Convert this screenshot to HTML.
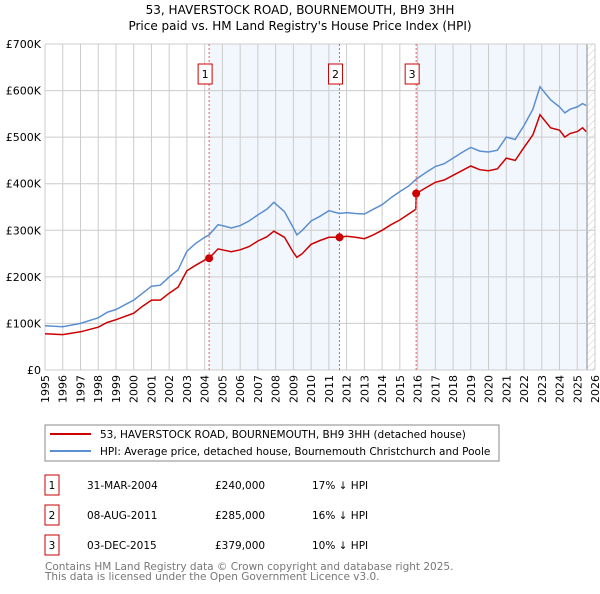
<!DOCTYPE html>
<html><head><meta charset="utf-8"><style>
body{margin:0;width:600px;height:590px;background:#fff;font-family:"DejaVu Sans","Liberation Sans",sans-serif;overflow:hidden}
svg text{font-family:"DejaVu Sans","Liberation Sans",sans-serif}
</style></head><body>
<svg id="chart" width="600" height="590">
<defs><pattern id="hatch" width="5" height="5" patternUnits="userSpaceOnUse" patternTransform="rotate(45)"><line x1="0" y1="0" x2="0" y2="5" stroke="#ccc" stroke-width="1"/></pattern></defs>
<text x="300" y="14" text-anchor="middle" font-size="12">53, HAVERSTOCK ROAD, BOURNEMOUTH, BH9 3HH</text>
<text x="300" y="30" text-anchor="middle" font-size="12">Price paid vs. HM Land Registry's House Price Index (HPI)</text>
<g id="bg"></g><g id="grid"></g><g id="lines"></g><g id="marks"></g><g id="axes"></g>
<rect x="45" y="425" width="454" height="36" fill="#fff" stroke="#888"/>
<line x1="50" y1="434" x2="91" y2="434" stroke="#cc0000" stroke-width="2"/>
<text x="100" y="438" font-size="10.5">53, HAVERSTOCK ROAD, BOURNEMOUTH, BH9 3HH (detached house)</text>
<line x1="50" y1="451" x2="91" y2="451" stroke="#5b8fd0" stroke-width="2"/>
<text x="100" y="455" font-size="10.5">HPI: Average price, detached house, Bournemouth Christchurch and Poole</text>
<g id="table" font-size="10.5"></g>
<text x="45" y="570" font-size="10.5" fill="#777">Contains HM Land Registry data © Crown copyright and database right 2025.</text>
<text x="45" y="580" font-size="10.5" fill="#777">This data is licensed under the Open Government Licence v3.0.</text>
</svg>
<script>
const hpiYears=[1995,1996,1997,1998,1998.5,1999,2000,2000.5,2001,2001.5,2002,2002.5,2003,2003.5,2004,2004.25,2004.75,2005,2005.5,2006,2006.5,2007,2007.5,2007.9,2008.5,2009,2009.2,2009.5,2010,2010.5,2011,2011.6,2012,2012.5,2013,2013.5,2014,2014.5,2015,2015.5,2015.92,2016.5,2017,2017.5,2018,2018.5,2019,2019.5,2020,2020.5,2021,2021.5,2022,2022.5,2022.9,2023.5,2024,2024.3,2024.6,2025,2025.3,2025.5];
const hpiValues=[95,93,100,112,124,130,150,165,180,182,200,215,255,272,285,290,312,310,305,310,320,333,345,360,340,305,290,300,320,330,342,336,338,336,335,345,355,370,383,395,410,425,437,443,455,467,478,470,468,472,500,495,525,560,608,580,565,552,560,565,572,568];
const redYears=[1995,1996,1997,1998,1998.5,1999,2000,2000.5,2001,2001.5,2002,2002.5,2003,2003.5,2004,2004.25,2004.75,2005,2005.5,2006,2006.5,2007,2007.5,2007.9,2008.5,2009,2009.2,2009.5,2010,2010.5,2011,2011.6,2012,2012.5,2013,2013.5,2014,2014.5,2015,2015.5,2015.9,2015.92,2016.5,2017,2017.5,2018,2018.5,2019,2019.5,2020,2020.5,2021,2021.5,2022,2022.5,2022.9,2023.5,2024,2024.3,2024.6,2025,2025.3,2025.5];
const redValues=[78,76,82,92,102,108,122,137,150,150,165,178,213,225,236,240,260,258,254,258,265,277,286,298,285,252,242,250,270,278,285,285,287,285,282,290,300,312,322,335,345,379,392,403,408,418,428,438,430,428,432,455,450,478,505,548,520,515,500,508,512,520,512];
const saleYears=[2004.25,2011.6,2015.92];
const saleValues=[240,285,379];
const saleLabels=["1","2","3"];
const saleDates=["31-MAR-2004","08-AUG-2011","03-DEC-2015"];
const salePrices=["£240,000","£285,000","£379,000"];
const saleDiffs=["17% ↓ HPI","16% ↓ HPI","10% ↓ HPI"];
const yTicks=[0,100,200,300,400,500,600,700];
const yTickLabels=["£0","£100K","£200K","£300K","£400K","£500K","£600K","£700K"];
const xTicks=[1995,1996,1997,1998,1999,2000,2001,2002,2003,2004,2005,2006,2007,2008,2009,2010,2011,2012,2013,2014,2015,2016,2017,2018,2019,2020,2021,2022,2023,2024,2025,2026];
const dataEnd=2025.55;

const NS="http://www.w3.org/2000/svg";
const X0=45,X1=595,Y0=370,Y1=44;
const xs=y=>X0+(y-1995)/(2026-1995)*(X1-X0);
const ys=v=>Y0-v/700*(Y0-Y1);
function mk(tag,attrs,parent){const e=document.createElementNS(NS,tag);for(const k in attrs)e.setAttribute(k,attrs[k]);document.getElementById(parent).appendChild(e);return e;}

let e;
e=mk('rect',{x:xs(saleYears[0]),y:Y1,width:xs(saleYears[1])-xs(saleYears[0]),height:Y0-Y1,fill:'#f2f6fd'},'bg');


e=mk('rect',{x:xs(saleYears[2]),y:Y1,width:xs(dataEnd)-xs(saleYears[2]),height:Y0-Y1,fill:'#f2f6fd'},'bg');


e=mk('rect',{x:xs(dataEnd),y:Y1,width:X1-xs(dataEnd),height:Y0-Y1,fill:'url(#hatch)'},'bg');


e=mk('line',{x1:xs(dataEnd),x2:xs(dataEnd),y1:Y1,y2:Y0,stroke:'#888','stroke-width':1},'bg');



xTicks.forEach(t=>{const g=mk('line',{x1:xs(t),x2:xs(t),y1:Y1,y2:Y0,stroke:'#ccc','stroke-width':1},'grid');


const tx=mk('text',{x:0,y:0,'font-size':11,'text-anchor':'end',transform:`translate(${xs(t)+4},${Y0+5}) rotate(-90)`},'axes');tx.textContent=t;

});
yTicks.forEach((t,i)=>{const g=mk('line',{x1:X0,x2:X1,y1:ys(t),y2:ys(t),stroke:'#ccc','stroke-width':1},'grid');


const tx=mk('text',{x:X0-4,y:ys(t)+4,'font-size':11,'text-anchor':'end'},'axes');tx.textContent=yTickLabels[i];

});

function path(xa,va){return xa.map((x,i)=>(i?'L':'M')+xs(x).toFixed(1)+','+ys(va[i]).toFixed(1)).join('');}
e=mk('path',{d:path(hpiYears,hpiValues),fill:'none',stroke:'#5b8fd0','stroke-width':1.5},'lines');


e=mk('path',{d:path(redYears,redValues),fill:'none',stroke:'#cc0000','stroke-width':1.5},'lines');



saleYears.forEach((s,i)=>{
const l=mk('line',{x1:xs(s),x2:xs(s),y1:Y1,y2:Y0,stroke:'#e06060','stroke-width':1,'stroke-dasharray':'2,2'},'marks');


const c=mk('circle',{cx:xs(s),cy:ys(saleValues[i]),r:4,fill:'#cc0000'},'marks');


const b=mk('rect',{x:xs(s)-11,y:64,width:14,height:20,fill:'#fff',stroke:'#cc0000'},'marks');


const t=mk('text',{x:xs(s)-4,y:78,'font-size':11,'text-anchor':'middle'},'marks');t.textContent=saleLabels[i];


const ry=475+i*30;
const tb=mk('rect',{x:45,y:ry,width:14,height:20,fill:'#fff',stroke:'#cc0000'},'table');


[[52,saleLabels[i],'middle','table-row-number'],[87,saleDates[i],'start','table-sale-date'],[215,salePrices[i],'start','table-sale-price'],[312,saleDiffs[i],'start','table-hpi-diff']].forEach(c2=>{
const tt=mk('text',{x:c2[0],y:ry+14,'text-anchor':c2[2]},'table');tt.textContent=c2[1];

});
});
</script>
</body></html>
